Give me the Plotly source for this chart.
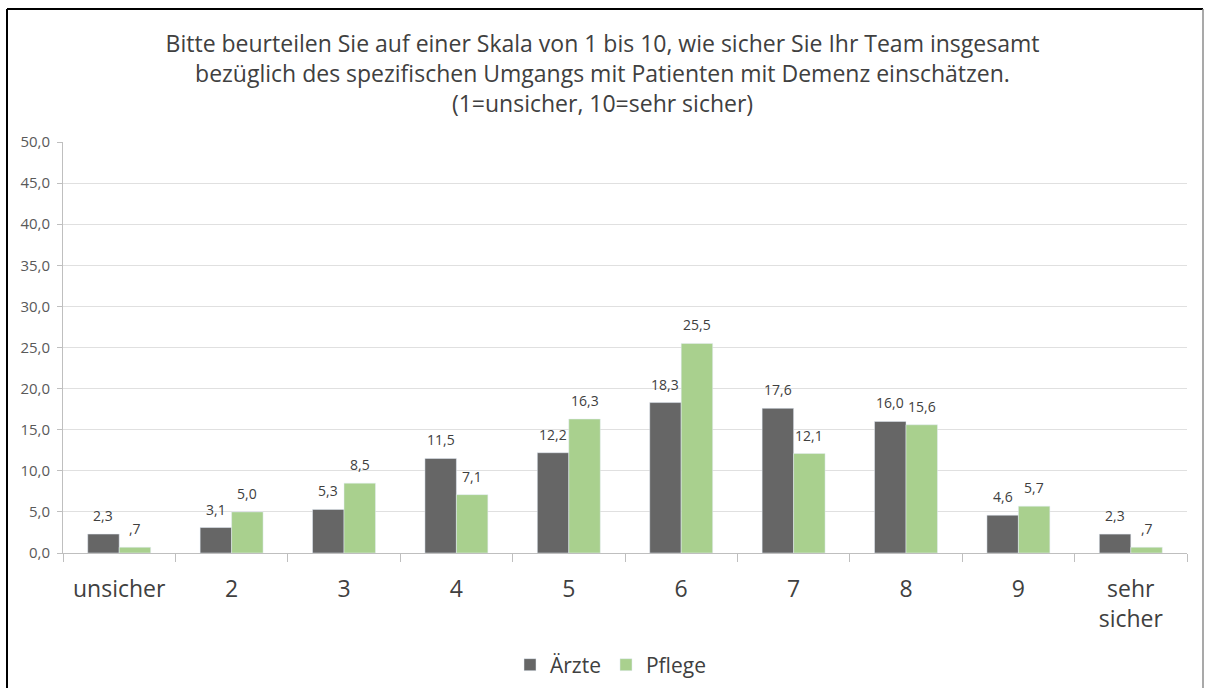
import plotly.graph_objects as go

categories = ["unsicher", "2", "3", "4", "5", "6", "7", "8", "9", "sehr<br>sicher"]
aerzte = [2.3, 3.1, 5.3, 11.5, 12.2, 18.3, 17.6, 16.0, 4.6, 2.3]
pflege = [0.7, 5.0, 8.5, 7.1, 16.3, 25.5, 12.1, 15.6, 5.7, 0.7]
series_names = ["Ärzte", "Pflege"]
y_ticks = [0, 5, 10, 15, 20, 25, 30, 35, 40, 45, 50]

title_text = ("Bitte beurteilen Sie auf einer Skala von 1 bis 10, wie sicher Sie Ihr Team insgesamt<br>"
              "bezüglich des spezifischen Umgangs mit Patienten mit Demenz einschätzen.<br>"
              "(1=unsicher, 10=sehr sicher)")


def fmt(v):
    s = f"{v:.1f}".replace(".", ",")
    if s.startswith("0,"):
        s = s[1:]
    return s


FONT = "Open Sans"
TXT = "#404040"
W, H = 1205, 688
L, R, T, B = 63, 18, 142, 135
pw, ph = W - L - R, H - T - B
BARGAP = 0.44
cat_px = pw / len(categories)
bar_px = cat_px * (1 - BARGAP) / 2

fig = go.Figure()
fig.add_trace(go.Bar(name=series_names[0], x=categories, y=aerzte, marker_color="#666666"))
fig.add_trace(go.Bar(name=series_names[1], x=categories, y=pflege, marker_color="#a9d08e"))

annotations = []
for vals, sign in ((aerzte, -1), (pflege, 1)):
    for i, v in enumerate(vals):
        annotations.append(dict(x=i, y=v, xref="x", yref="y", text=fmt(v), showarrow=False,
                                xshift=sign * bar_px / 2, yanchor="bottom", yshift=7,
                                font=dict(size=14, color=TXT, family=FONT)))


def px_x(x):
    return (x - L) / pw


def px_y(y):
    return (H - B - y) / ph


shapes = [
    dict(type="line", xref="paper", yref="paper", x0=px_x(7), x1=px_x(1203), y0=px_y(9), y1=px_y(9),
         line=dict(color="black", width=2)),
    dict(type="line", xref="paper", yref="paper", x0=px_x(7), x1=px_x(7), y0=px_y(9), y1=px_y(700),
         line=dict(color="black", width=2)),
    dict(type="line", xref="paper", yref="paper", x0=px_x(1203), x1=px_x(1203), y0=px_y(9), y1=px_y(700),
         line=dict(color="#8c8c8c", width=1.5)),
]

fig.update_layout(
    width=W, height=H,
    margin=dict(l=L, r=R, t=T, b=B),
    paper_bgcolor="white", plot_bgcolor="white",
    separators=", ",
    barmode="group", bargap=BARGAP, bargroupgap=0,
    font=dict(family=FONT, color=TXT),
    title=dict(text=title_text, xref="container", yref="container", x=0.5, xanchor="center",
               y=1 - 52 / H, yanchor="middle", font=dict(size=23, color=TXT, family=FONT)),
    legend=dict(orientation="h", xref="container", yref="container", x=0.5 + 8 / W, xanchor="center",
                y=1 - 665 / H, yanchor="middle", font=dict(size=21, color=TXT, family=FONT),
                traceorder="normal", itemwidth=30),
    shapes=shapes,
    annotations=annotations,
    showlegend=True,
)
fig.update_xaxes(showline=True, linecolor="#bfbfbf", linewidth=1, ticks="outside", tickson="boundaries",
                 ticklen=8, tickcolor="#bfbfbf", tickfont=dict(size=23, color=TXT, family=FONT),
                 ticklabelstandoff=15, showgrid=False)
fig.update_yaxes(range=[0, 50], tickvals=y_ticks, tickformat=".1f", showline=True, linecolor="#bfbfbf",
                 ticks="outside", ticklen=5, tickcolor="#bfbfbf", gridcolor="#e0e0e0", gridwidth=1,
                 tickfont=dict(size=15, color="#595959", family=FONT), zeroline=False,
                 ticklabelstandoff=4)

fig.write_html("out.html", config={"displayModeBar": False},
               post_script="document.body.style.margin='0px';")
